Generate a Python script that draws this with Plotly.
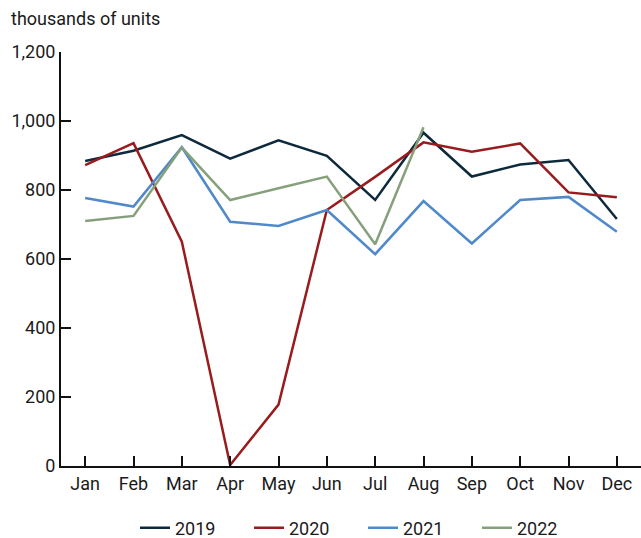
import plotly.graph_objects as go

months = ["Jan", "Feb", "Mar", "Apr", "May", "Jun", "Jul", "Aug", "Sep", "Oct", "Nov", "Dec"]
y2019 = [884, 914, 959, 891, 944, 899, 771, 966, 839, 874, 887, 716]
y2020 = [872, 936, 650, 3, 178, 742, 838, 938, 911, 935, 793, 779]
y2021 = [777, 752, 924, 708, 696, 742, 614, 768, 645, 771, 780, 679]
y2022 = [710, 725, 923, 771, 805, 839, 643, 982]
series_names = ["2019", "2020", "2021", "2022"]
colors = ["#0d2a3d", "#981b1e", "#4f89c9", "#87a07c"]
y_ticks = [0, 200, 400, 600, 800, 1000, 1200]
y_ticklabels = ["0", "200", "400", "600", "800", "1,000", "1,200"]

fig = go.Figure()
for name, vals, col in zip(series_names, [y2019, y2020, y2021, y2022], colors):
    fig.add_trace(go.Scatter(
        x=list(range(len(vals))), y=vals, mode="lines", name=name,
        line=dict(color=col, width=2.5),
    ))

L, R, T, B = 61, 0, 52, 72
W, H = 641, 538
pw, ph = W - L - R, H - T - B

fig.update_layout(
    width=W, height=H,
    margin=dict(l=L, r=R, t=T, b=B, autoexpand=False),
    paper_bgcolor="white", plot_bgcolor="white",
    font=dict(family="Roboto, sans-serif", size=18, color="#1a1a1a"),
    showlegend=True,
    legend=dict(orientation="h", x=0.5 + 12 / pw, xanchor="center", y=-(528 - (T + ph)) / ph,
                yanchor="middle", font=dict(size=18), itemwidth=30,
                entrywidth=69, entrywidthmode="pixels",
                traceorder="normal", tracegroupgap=0),
    annotations=[dict(text="thousands of units", x=-(L - 9) / pw, xref="paper", xanchor="left",
                      y=1 + (T - 18) / ph, yref="paper", yanchor="middle", showarrow=False,
                      font=dict(size=18, color="#1a1a1a"))],
)

fig.update_xaxes(
    range=[-0.5, 11.5], tickmode="array", tickvals=list(range(12)), ticktext=months,
    ticks="inside", ticklen=10, tickwidth=2, tickcolor="#111", automargin=False,
    showline=True, linecolor="#111", linewidth=2, showgrid=False, zeroline=False,
)
fig.update_yaxes(
    range=[0, 1200], tickmode="array", tickvals=y_ticks, ticktext=y_ticklabels,
    ticks="inside", ticklen=10, tickwidth=2, tickcolor="#111", automargin=False,
    showline=True, linecolor="#111", linewidth=2, showgrid=False, zeroline=False,
)

fig.write_html("out.html", config={"displayModeBar": False},
               post_script="document.body.style.margin='0';document.body.style.overflow='hidden';")
